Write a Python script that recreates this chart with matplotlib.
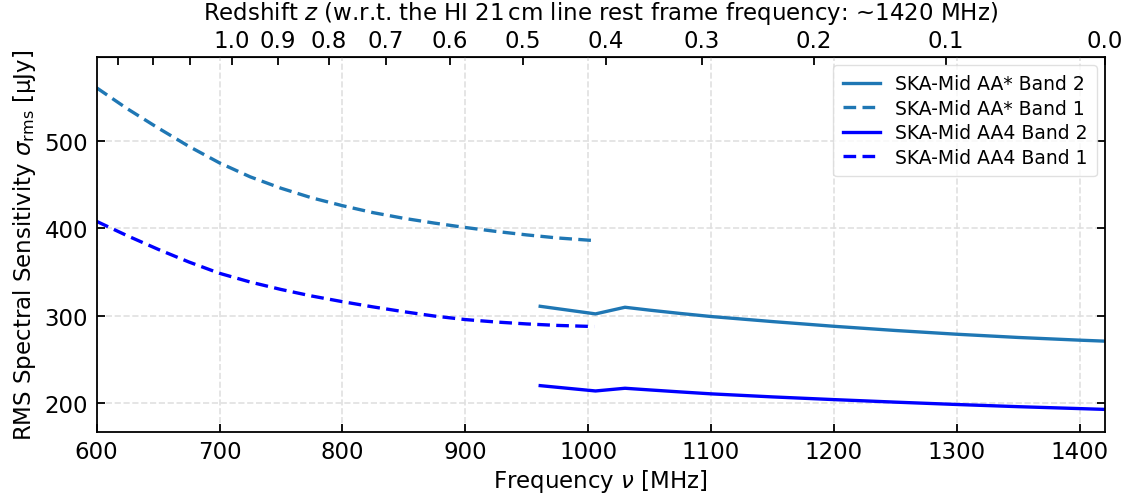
import numpy as np
import matplotlib
matplotlib.use("Agg")
import matplotlib.pyplot as plt

# ---- data ----
freq_b1 = [600, 625, 650, 675, 700, 725, 750, 775, 800, 825, 850, 875, 900, 925, 950, 975, 1005]
aastar_b1 = [561, 537, 515, 494, 475, 459, 446, 435, 426, 418, 411.5, 406, 401, 396.5, 392.5, 389, 386]
aa4_b1 = [408, 391.5, 376, 361.5, 348.5, 338.5, 330, 322.5, 316, 310, 304.5, 299.5, 295.5, 292.7, 290.5, 288.8, 287.5]

freq_b2 = [961, 1006, 1030, 1050, 1075, 1100, 1150, 1200, 1250, 1300, 1350, 1400, 1420]
aastar_b2 = [310.7, 302, 309.6, 306.3, 302.5, 299, 293.2, 287.8, 283, 278.7, 275, 271.9, 270.8]
aa4_b2 = [219.8, 213.7, 216.8, 214.9, 212.6, 210.4, 206.9, 203.8, 200.9, 198.2, 195.7, 193.5, 192.6]

z_ticks = [0.0, 0.1, 0.2, 0.3, 0.4, 0.5, 0.6, 0.7, 0.8, 0.9, 1.0, 1.1, 1.2, 1.3]
z_labels = ['0.0', '0.1', '0.2', '0.3', '0.4', '0.5', '0.6', '0.7', '0.8', '0.9', '1.0', '', '', '']

NU_HI = 1420.405751

FS = 16.5
plt.rcParams['font.family'] = ['DejaVu Sans']
plt.rcParams['mathtext.fontset'] = 'dejavusans'

fig = plt.figure(figsize=(11.33, 5.02), dpi=100)
ax = fig.add_axes([0.0853, 0.138, 0.975 - 0.0853, 0.8839 - 0.138])

c_star = '#1f77b4'
c_aa4 = '#0000ff'
lw = 2.4
dash = (3.8, 1.9)
ax.plot(freq_b2, aastar_b2, color=c_star, lw=lw, ls='-', label='SKA-Mid AA* Band 2')
ax.plot(freq_b1, aastar_b1, color=c_star, lw=lw, ls=(0, dash), label='SKA-Mid AA* Band 1')
ax.plot(freq_b2, aa4_b2, color=c_aa4, lw=lw, ls='-', label='SKA-Mid AA4 Band 2')
ax.plot(freq_b1, aa4_b1, color=c_aa4, lw=lw, ls=(0, dash), label='SKA-Mid AA4 Band 1')

ax.set_xlim(600, NU_HI)
ax.set_ylim(167, 596)
ax.set_xticks([600, 700, 800, 900, 1000, 1100, 1200, 1300, 1400])
ax.set_yticks([200, 300, 400, 500])
ax.grid(True, color='0.88', linestyle='--', linewidth=1.2)
ax.set_axisbelow(True)

ax.tick_params(axis='both', which='major', direction='in', length=6, width=1.3,
               labelsize=FS, top=False, right=True, pad=6)
for sp in ax.spines.values():
    sp.set_linewidth(1.3)

ax.set_xlabel(r'Frequency $\nu$ [MHz]', fontsize=FS, labelpad=3)
ax.set_ylabel(r'RMS Spectral Sensitivity $\sigma_{\rm rms}$ [μJy]', fontsize=FS, labelpad=5)

def f2z(f):
    f = np.asarray(f, dtype=float)
    with np.errstate(divide='ignore', invalid='ignore'):
        return NU_HI / f - 1.0

def z2f(z):
    z = np.asarray(z, dtype=float)
    with np.errstate(divide='ignore', invalid='ignore'):
        return NU_HI / (1.0 + z)

sec = ax.secondary_xaxis('top', functions=(f2z, z2f))
sec.set_xticks(z_ticks)
sec.set_xticklabels(z_labels)
sec.tick_params(axis='x', direction='in', length=6, width=1.3, labelsize=FS, pad=4)
sec.set_xlabel(r'Redshift $z$ (w.r.t. the HI 21$\,$cm line rest frame frequency: ~1420 MHz)',
               fontsize=FS, labelpad=7)

ax.legend(loc='upper right', fontsize=13.5, frameon=True, framealpha=0.8,
          edgecolor='0.85', handlelength=2.0, borderpad=0.5, labelspacing=0.3,
          borderaxespad=0.4)

fig.savefig('out.png', dpi=100)
